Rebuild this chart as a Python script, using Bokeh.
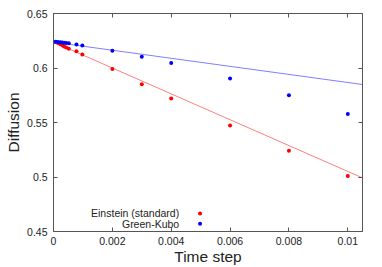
import numpy as np
from bokeh.plotting import figure
from bokeh.models import LinearAxis, FixedTicker, PrintfTickFormatter, CustomJSTickFormatter, Label, Range1d
from bokeh.embed import file_html
from bokeh.resources import INLINE

# ---- data ----
timestep = [0.00007, 0.00015, 0.00023, 0.0003, 0.00036, 0.00043, 0.00052, 0.00078, 0.00098,
            0.002, 0.003, 0.004, 0.006, 0.008, 0.01]
einstein = [0.6238, 0.6229, 0.6217, 0.6208, 0.6198, 0.6189, 0.6177, 0.6153, 0.6125,
            0.599, 0.585, 0.572, 0.5473, 0.524, 0.501]
greenkubo = [0.6240, 0.6238, 0.6236, 0.6234, 0.6231, 0.6229, 0.6226, 0.6216, 0.6207,
             0.6159, 0.6104, 0.6046, 0.5903, 0.575, 0.5577]
# linear fits: intercept, slope
einstein_fit = [0.6237, -11.86]
greenkubo_fit = [0.6237, -3.70]

x_ticks = [0, 0.002, 0.004, 0.006, 0.008, 0.01]
y_ticks = [0.45, 0.5, 0.55, 0.6, 0.65]
x_lim = [0, 0.0105]
y_lim = [0.45, 0.65]

legend_labels = ["Einstein (standard)", "Green-Kubo"]
x_title = "Time step"
y_title = "Diffusion"

FONT = "Liberation Sans"
AXIS_COL = "#555555"
TEXT_COL = "#222222"

p = figure(width=382, height=267, output_backend="svg", toolbar_location=None,
           x_range=Range1d(*x_lim), y_range=Range1d(*y_lim),
           min_border_left=53, min_border_right=20, min_border_top=13, min_border_bottom=35,
           x_axis_location=None, y_axis_location=None)
p.grid.visible = False
p.outline_line_color = AXIS_COL
p.outline_line_width = 1
p.background_fill_color = "white"
p.border_fill_color = "white"


def make_axis(ticks, labels):
    fmt = PrintfTickFormatter(format="%g") if labels else CustomJSTickFormatter(code="return ''")
    ax = LinearAxis(ticker=FixedTicker(ticks=ticks), formatter=fmt)
    ax.major_tick_in = 4
    ax.major_tick_out = 0
    ax.minor_tick_line_color = None
    ax.major_tick_line_color = AXIS_COL
    ax.axis_line_color = AXIS_COL
    ax.major_label_text_font = FONT
    ax.major_label_text_color = TEXT_COL
    ax.major_label_text_font_size = "10.5px"
    ax.axis_label_text_font = FONT
    ax.axis_label_text_font_style = "normal"
    ax.axis_label_text_font_size = "15.5px"
    ax.axis_label_text_color = TEXT_COL
    if not labels:
        ax.major_label_standoff = 0
    return ax

bottom = make_axis(x_ticks, True)
bottom.major_label_standoff = 5
bottom.axis_label = x_title
bottom.axis_label_standoff = 0
left = make_axis(y_ticks, True)
left.major_label_standoff = 6
left.axis_label = y_title
left.axis_label_standoff = 2
top = make_axis(x_ticks, False)
right = make_axis(y_ticks, False)
p.add_layout(bottom, "below")
p.add_layout(left, "left")
p.add_layout(top, "above")
p.add_layout(right, "right")

# fit lines
xl = np.array(x_lim)
p.line(xl, einstein_fit[0] + einstein_fit[1] * xl, line_color="#ff7f7f", line_width=1)
p.line(xl, greenkubo_fit[0] + greenkubo_fit[1] * xl, line_color="#7f7fff", line_width=1)

# points
p.scatter(timestep, einstein, marker="circle", size=4, fill_color="#ff0000", line_color=None)
p.scatter(timestep, greenkubo, marker="circle", size=4, fill_color="#0000ff", line_color=None)

# legend (gnuplot style: text right-aligned, then sample)
leg_x = 0.00427
leg_mark_x = 0.00498
leg_y = [0.4666, 0.4571]
for lab, yy in zip(legend_labels, leg_y):
    p.add_layout(Label(x=leg_x, y=yy, text=lab, text_align="right", text_baseline="middle",
                       text_font=FONT, text_font_size="10.5px", text_color=TEXT_COL))
p.scatter([leg_mark_x, leg_mark_x], leg_y, marker="circle", size=4,
          fill_color=["#ff0000", "#0000ff"], line_color=None)

open("out.html", "w").write(file_html(p, INLINE))
